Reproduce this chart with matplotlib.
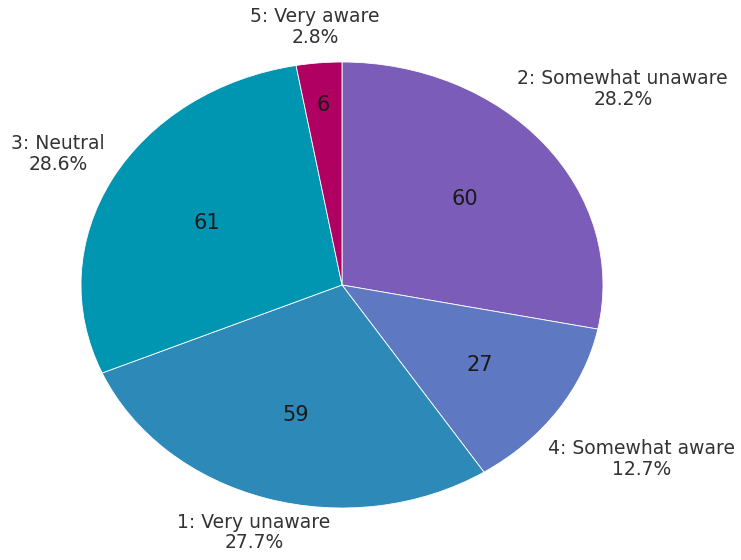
import matplotlib
matplotlib.use("Agg")
import matplotlib.pyplot as plt
import numpy as np

categories = ["2: Somewhat unaware", "4: Somewhat aware", "1: Very unaware", "3: Neutral", "5: Very aware"]
values = [60, 27, 59, 61, 6]
colors = ["#7B5CB8", "#5E78C1", "#2D8AB8", "#0096B1", "#B00062"]

# label placement (style): radial distances for category and value labels
label_dist = [1.39, 1.39, 1.16, 1.235, 1.16]
value_dist = [0.61, 0.64, 0.61, 0.59, 0.81]

plt.rcParams['font.family'] = ['DejaVu Sans']

W, H = 741, 560
fig = plt.figure(figsize=(W/100, H/100), dpi=100)
ax = fig.add_axes([0, 0, 1, 1])
cx, cy, rx, ry = 342, 285, 261, 223

wedges, _ = ax.pie(values, colors=colors, startangle=90, counterclock=False,
                   wedgeprops=dict(edgecolor="white", linewidth=0.6))
ax.set_aspect('auto')
ax.set_xlim(-cx/rx, (W-cx)/rx)
ax.set_ylim(-(H-cy)/ry, cy/ry)

total = sum(values)
for i, w in enumerate(wedges):
    ang = np.deg2rad((w.theta1 + w.theta2) / 2)
    c, s = np.cos(ang), np.sin(ang)
    ax.text(value_dist[i]*c, value_dist[i]*s, f"{values[i]}", ha="center", va="center",
            fontsize=15, color="#1a1a1a")
    pct = 100 * values[i] / total
    ax.text(label_dist[i]*c, label_dist[i]*s, f"{categories[i]}\n{pct:.1f}%",
            ha="center", va="center", fontsize=13.5, color="#333333", linespacing=1.12)

fig.savefig("out.png", dpi=100)
